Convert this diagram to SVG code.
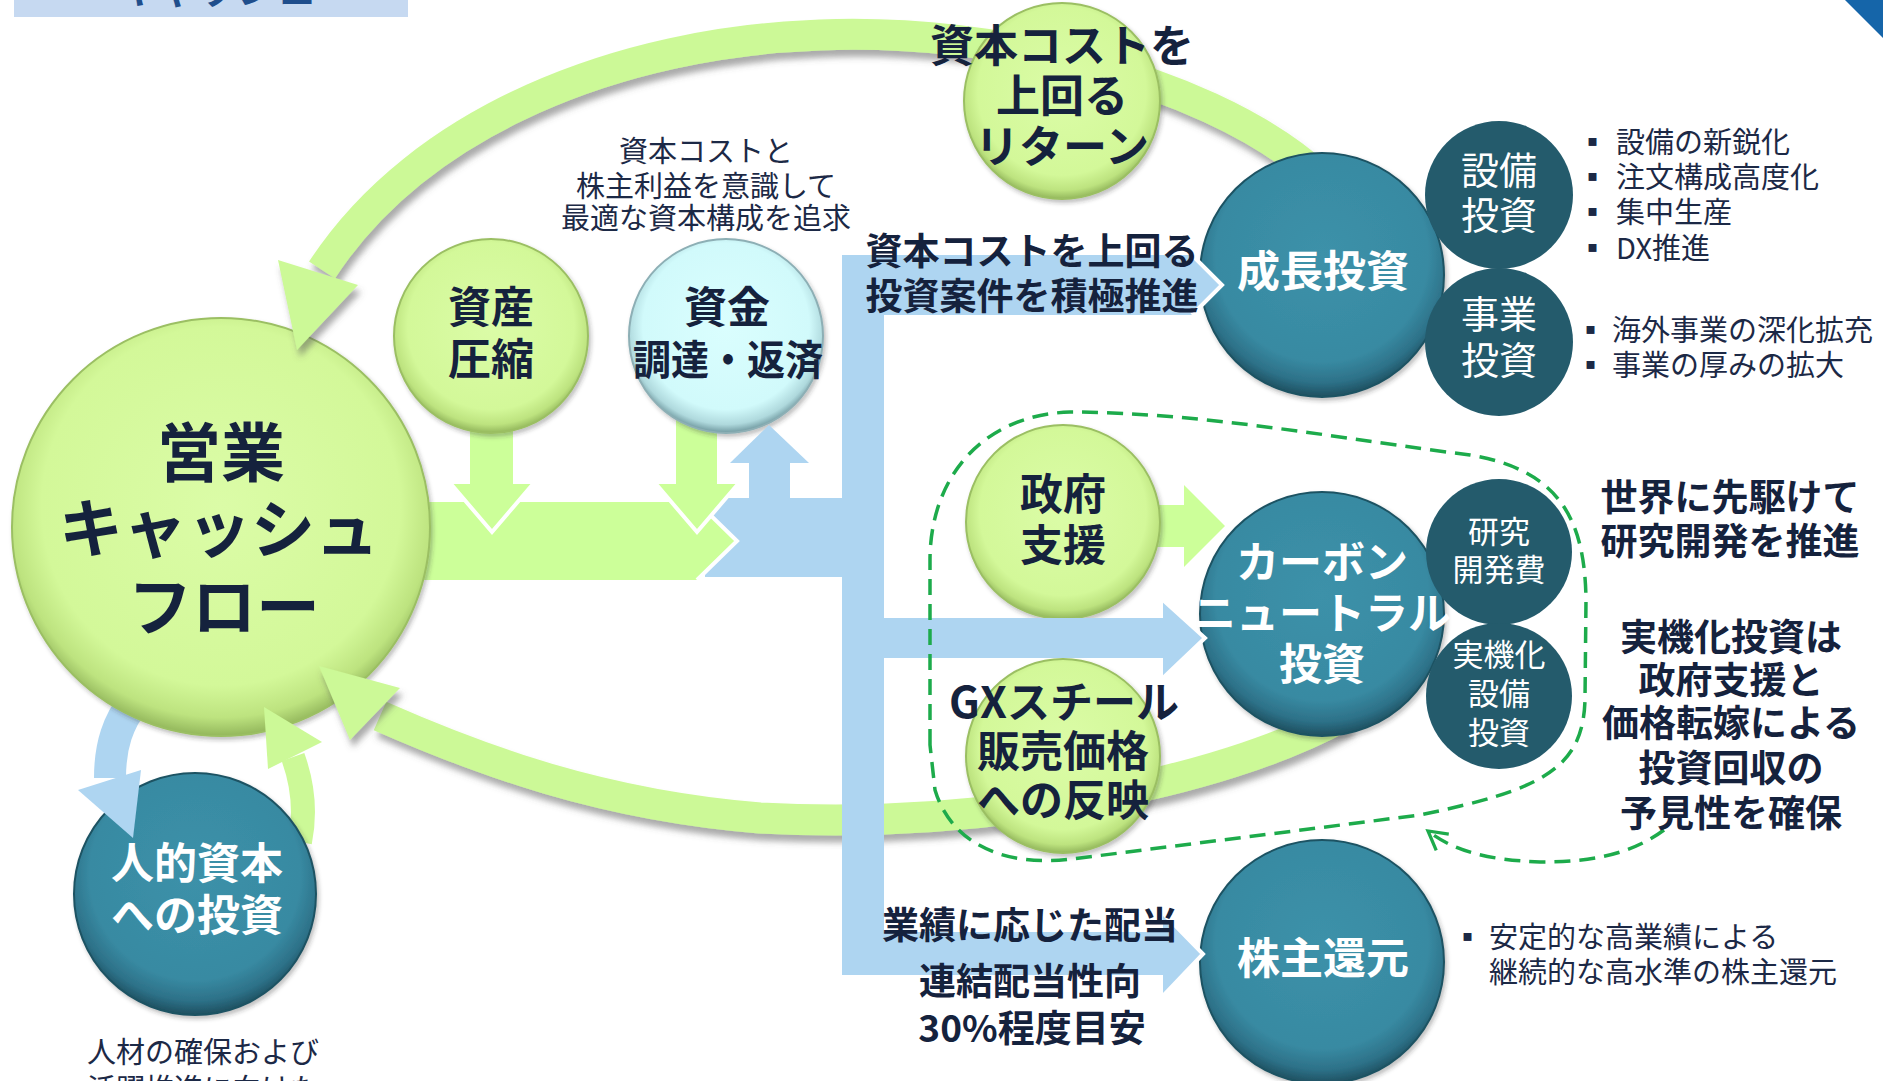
<svg xmlns="http://www.w3.org/2000/svg" width="1883" height="1081" viewBox="0 0 1883 1081">
<defs>
<style>
text{font-family:'Noto Sans CJK JP','Noto Sans',sans-serif;text-anchor:middle;}
.b{font-weight:700;fill:#15223D;}
.r{font-weight:400;fill:#1C2946;}
.w{font-weight:700;fill:#FFFFFF;}
.wr{font-weight:400;fill:#FFFFFF;}
.l{text-anchor:start;}
.arc{fill:none;stroke:#CCF997;stroke-width:31;}
.ah{fill:#CCF997;}
.gr{fill:#CCFF99;}
.bl{fill:#AED5F1;}
.tipw{fill:none;stroke:#FFFFFF;stroke-width:4;}
.dash{fill:none;stroke:#1DAB4B;stroke-width:3.5;stroke-dasharray:16 9;}
.cg{fill:url(#gGreen);stroke:#9BBF63;stroke-width:2;}
.cc{fill:url(#gCyan);stroke:#8DAFB5;stroke-width:2;}
.ct{fill:url(#gTeal);stroke:#1E5363;stroke-width:2;}
.cs{fill:#245B6C;}
</style>
<radialGradient id="gGreen" cx="50%" cy="45%" r="55%">
<stop offset="0" stop-color="#DBFCA7"/>
<stop offset="0.78" stop-color="#D3F899"/>
<stop offset="0.92" stop-color="#BDE37F"/>
<stop offset="1" stop-color="#93B75C"/>
</radialGradient>
<radialGradient id="gCyan" cx="50%" cy="45%" r="55%">
<stop offset="0" stop-color="#DAFEFE"/>
<stop offset="0.78" stop-color="#D1FAFB"/>
<stop offset="0.92" stop-color="#AFD9DD"/>
<stop offset="1" stop-color="#6F989F"/>
</radialGradient>
<radialGradient id="gTeal" cx="50%" cy="42%" r="58%">
<stop offset="0" stop-color="#3C91A9"/>
<stop offset="0.75" stop-color="#388AA2"/>
<stop offset="0.9" stop-color="#2D7188"/>
<stop offset="1" stop-color="#1E4F5F"/>
</radialGradient>
<filter id="sh" x="-20%" y="-20%" width="140%" height="150%">
<feDropShadow dx="3" dy="7" stdDeviation="3" flood-color="#555" flood-opacity="0.5"/>
</filter>
<filter id="csh" x="-20%" y="-20%" width="140%" height="140%">
<feDropShadow dx="2" dy="3" stdDeviation="2" flood-color="#333" flood-opacity="0.3"/>
</filter>
<marker id="openArrow" viewBox="0 0 12 12" refX="10" refY="6" markerWidth="7" markerHeight="7" markerUnits="strokeWidth" orient="auto">
<path d="M1,1 L10,6 L1,11" fill="none" stroke="#1DAB4B" stroke-width="1.6"/>
</marker>
</defs>

<rect x="0" y="0" width="1883" height="1081" fill="#FFFFFF"/>

<g id="header">
<rect x="14" y="0" width="394" height="17" fill="#C6D9F1"/>
<text x="217" y="3" class="b" style="fill:#1F4E8C" font-size="40">キャッシュ</text>
<polygon points="1845,0 1883,0 1883,38" fill="#1565A9"/>
</g>

<g id="connectors">
<g filter="url(#sh)">
<path class="arc" d="M1305,165 C1200,80 1000,28 820,35 C620,42 420,120 322,270"/>
<path class="arc" d="M1345,715 C1220,785 980,830 760,818 C600,805 480,760 380,716"/>
</g>
<rect class="bl" x="705" y="498" width="137" height="79"/>
<rect class="bl" x="842" y="255" width="42" height="720"/>
<rect class="gr" x="470" y="420" width="43" height="66"/>
<rect class="gr" x="676" y="420" width="41" height="66"/>
<polygon class="gr" points="415,502 697,502 737,541 697,580 415,580"/>
<polyline class="tipw" points="697,502 737,541 697,580"/>
<polygon class="gr" points="451,484 533,484 492,532"/>
<polyline class="tipw" points="451,484 492,532 533,484"/>
<polygon class="gr" points="656,484 738,484 697,532"/>
<polyline class="tipw" points="656,484 697,532 738,484"/>
<rect class="gr" x="1150" y="505" width="36" height="42"/>
<polygon class="gr" points="1184,485 1225,526 1184,567"/>
<path d="M135,700 C118,722 110,745 110,778" fill="none" stroke="#AED5F1" stroke-width="32"/>
<path d="M300,842 C306,812 302,782 293,757" fill="none" stroke="#CCF997" stroke-width="24"/>
</g>

<g id="node-cf">
<circle class="cg" cx="221" cy="527" r="209" filter="url(#csh)"/>
<text class="b" x="221" y="476" font-size="64">営業</text>
<text class="b" x="219" y="552" font-size="64">キャッシュ</text>
<text class="b" x="224" y="630" font-size="64">フロー</text>
</g>
<g id="node-asset">
<circle class="cg" cx="491" cy="336" r="97" filter="url(#csh)"/>
<text class="b" x="491" y="323" font-size="43">資産</text>
<text class="b" x="491" y="375" font-size="43">圧縮</text>
</g>
<g id="node-fund">
<circle class="cc" cx="726" cy="336" r="97" filter="url(#csh)"/>
<text class="b" x="727" y="323" font-size="43">資金</text>
<text class="b" x="728" y="375" font-size="41" textLength="190" lengthAdjust="spacingAndGlyphs">調達・返済</text>
</g>
<g id="node-return">
<circle class="cg" cx="1062" cy="101" r="98" filter="url(#csh)"/>
<text class="b" x="1062" y="62" font-size="44">資本コストを</text>
<text class="b" x="1062" y="112" font-size="44">上回る</text>
<text class="b" x="1062" y="163" font-size="44">リターン</text>
</g>
<g id="node-growth">
<circle class="ct" cx="1322" cy="275" r="122" filter="url(#csh)"/>
<text class="w" x="1323" y="287" font-size="43">成長投資</text>
</g>
<g id="node-equip">
<circle class="cs" cx="1499" cy="195" r="74"/>
<text class="wr" x="1499" y="184" font-size="38">設備</text>
<text class="wr" x="1499" y="229" font-size="38">投資</text>
</g>
<g id="node-biz">
<circle class="cs" cx="1499" cy="342" r="74"/>
<text class="wr" x="1499" y="328" font-size="38">事業</text>
<text class="wr" x="1499" y="374" font-size="38">投資</text>
</g>
<g id="node-gov">
<circle class="cg" cx="1063" cy="522" r="97" filter="url(#csh)"/>
<text class="b" x="1063" y="510" font-size="43">政府</text>
<text class="b" x="1063" y="561" font-size="43">支援</text>
</g>
<g id="node-gx">
<circle class="cg" cx="1063" cy="756" r="97" filter="url(#csh)"/>
<text class="b" x="1064" y="718" font-size="43">GXスチール</text>
<text class="b" x="1063" y="767" font-size="43">販売価格</text>
<text class="b" x="1063" y="816" font-size="43">への反映</text>
</g>
<g id="node-carbon">
<circle class="ct" cx="1322" cy="614" r="122" filter="url(#csh)"/>
<text class="w" x="1322" y="578" font-size="43">カーボン</text>
<text class="w" x="1322" y="629" font-size="43">ニュートラル</text>
<text class="w" x="1322" y="680" font-size="43">投資</text>
</g>
<g id="node-rd">
<circle class="cs" cx="1499" cy="552" r="73"/>
<text class="wr" x="1499" y="543" font-size="31">研究</text>
<text class="wr" x="1499" y="581" font-size="31">開発費</text>
</g>
<g id="node-impl">
<circle class="cs" cx="1499" cy="696" r="73"/>
<text class="wr" x="1499" y="666" font-size="31">実機化</text>
<text class="wr" x="1499" y="705" font-size="31">設備</text>
<text class="wr" x="1499" y="744" font-size="31">投資</text>
</g>
<g id="node-share">
<circle class="ct" cx="1322" cy="962" r="122" filter="url(#csh)"/>
<text class="w" x="1323" y="974" font-size="43">株主還元</text>
</g>
<g id="node-human">
<circle class="ct" cx="195" cy="894" r="121" filter="url(#csh)"/>
<text class="w" x="197" y="879" font-size="43">人的資本</text>
<text class="w" x="197" y="931" font-size="43">への投資</text>
</g>

<g id="connectors-front">
<polygon class="ah" points="278,260 358,285 297,350" filter="url(#sh)"/>
<polygon class="ah" points="400,688 350,740 319,666" filter="url(#sh)"/>
<polygon class="ah" points="268,769 322,742 264,707"/>
<polygon class="bl" points="78,790 141,770 133,838"/>
<rect class="bl" x="749" y="460" width="41" height="40"/>
<polygon class="bl" points="730,463 809,463 769,425"/>
<polygon class="bl" points="884,255 1192,255 1222,285 1192,315 884,315"/>
<polyline class="tipw" points="1192,255 1222,285 1192,315"/>
<rect class="bl" x="884" y="618" width="281" height="40"/>
<polygon class="bl" points="1163,600 1205,638 1163,678"/>
<polyline class="tipw" points="1163,600 1205,638 1163,678"/>
<rect class="bl" x="884" y="932" width="281" height="43"/>
<polygon class="bl" points="1163,913 1203,954 1163,996"/>
<polyline class="tipw" points="1163,913 1203,954 1163,996"/>
<path class="dash" d="M930,745 L930,560 C930,480 980,415 1070,412 C1200,412 1350,440 1470,455 C1560,470 1585,520 1586,600 L1585,700 C1583,770 1540,790 1420,815 L1080,858 C1000,870 950,840 935,790 Z"/>
<path class="dash" d="M1664,830 C1630,855 1590,862 1540,862 C1490,860 1455,852 1428,831" marker-end="url(#openArrow)"/>
</g>

<g id="labels">
<text class="r" x="706" y="162" font-size="29">資本コストと</text>
<text class="r" x="706" y="197" font-size="29">株主利益を意識して</text>
<text class="r" x="706" y="229" font-size="29">最適な資本構成を追求</text>
<text class="b" x="1032" y="265" font-size="37">資本コストを上回る</text>
<text class="b" x="1032" y="310" font-size="37">投資案件を積極推進</text>
<text class="r l" font-size="29"><tspan x="1578" y="153">▪</tspan><tspan x="1616" y="153">設備の新鋭化</tspan></text>
<text class="r l" font-size="29"><tspan x="1578" y="188">▪</tspan><tspan x="1616" y="188">注文構成高度化</tspan></text>
<text class="r l" font-size="29"><tspan x="1578" y="223">▪</tspan><tspan x="1616" y="223">集中生産</tspan></text>
<text class="r l" font-size="29"><tspan x="1578" y="259">▪</tspan><tspan x="1616" y="259">DX推進</tspan></text>
<text class="r l" font-size="29"><tspan x="1576" y="341">▪</tspan><tspan x="1612" y="341">海外事業の深化拡充</tspan></text>
<text class="r l" font-size="29"><tspan x="1576" y="376">▪</tspan><tspan x="1612" y="376">事業の厚みの拡大</tspan></text>
<text class="b" x="1730" y="511" font-size="37">世界に先駆けて</text>
<text class="b" x="1730" y="555" font-size="37">研究開発を推進</text>
<text class="b" x="1731" y="651" font-size="37">実機化投資は</text>
<text class="b" x="1731" y="694" font-size="37">政府支援と</text>
<text class="b" x="1731" y="737" font-size="37">価格転嫁による</text>
<text class="b" x="1731" y="782" font-size="37">投資回収の</text>
<text class="b" x="1731" y="827" font-size="37">予見性を確保</text>
<text class="b" x="1030" y="939" font-size="37">業績に応じた配当</text>
<text class="b" x="1030" y="995" font-size="37">連結配当性向</text>
<text class="b" x="1032" y="1042" font-size="37">30%程度目安</text>
<text class="r l" font-size="29"><tspan x="1453" y="948">▪</tspan><tspan x="1489" y="948">安定的な高業績による</tspan></text>
<text class="r l" font-size="29"><tspan x="1489" y="983">継続的な高水準の株主還元</tspan></text>
<text class="r" x="203" y="1063" font-size="29">人材の確保および</text>
<text class="r" x="203" y="1100" font-size="29">活躍推進に向けた</text>
</g>
</svg>
